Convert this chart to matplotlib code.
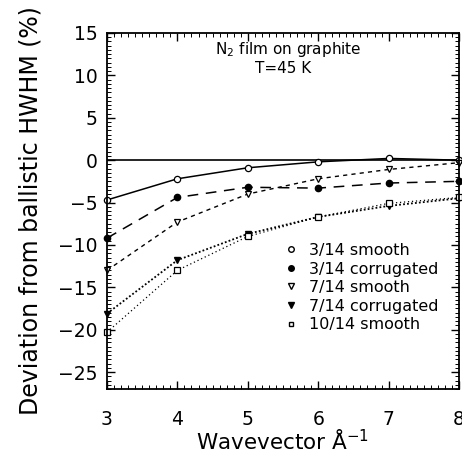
import matplotlib
matplotlib.use("Agg")
import matplotlib.pyplot as plt
from matplotlib.ticker import MultipleLocator
from matplotlib.lines import Line2D

x = [3, 4, 5, 6, 7, 8]
s3_smooth = [-4.7, -2.2, -0.9, -0.2, 0.2, 0.0]
s3_corr = [-9.2, -4.4, -3.2, -3.3, -2.7, -2.5]
s7_smooth = [-13.0, -7.3, -4.0, -2.2, -1.1, -0.3]
s7_corr = [-18.1, -11.8, -8.7, -6.7, -5.4, -4.5]
s10_smooth = [-20.3, -13.0, -9.0, -6.7, -5.1, -4.4]
labels = ["3/14 smooth", "3/14 corrugated", "7/14 smooth", "7/14 corrugated", "10/14 smooth"]

plt.rcParams['font.family'] = ['DejaVu Sans']
fig = plt.figure(figsize=(4.62, 4.68), dpi=100)
ax = fig.add_axes([0.2316, 0.1688, 0.7619, 0.7607])

ax.axhline(0, color='black', lw=1.2, zorder=1)

ms = 4.5
common = dict(color='black', clip_on=False)
ax.plot(x, s3_smooth, lw=1.1, ls='-', marker='o', mfc='white', mec='black', ms=ms, mew=0.9, **common)
ax.plot(x, s3_corr, lw=1.1, ls=(0, (7, 5)), marker='o', mfc='black', mec='black', ms=ms, **common)
ax.plot(x, s7_smooth, lw=1.0, ls=(0, (3, 3)), marker='v', mfc='white', mec='black', ms=ms, mew=0.9, **common)
ax.plot(x, s7_corr, lw=1.3, ls=(0, (1, 1.2)), marker='v', mfc='black', mec='black', ms=ms, **common)
ax.plot(x, s10_smooth, lw=0.9, ls=(0, (1, 2.2)), marker='s', mfc='white', mec='black', ms=ms - 0.5, mew=0.9, **common)

ax.set_xlim(3, 8)
ax.set_ylim(-27, 15)
ax.xaxis.set_major_locator(MultipleLocator(1))
ax.xaxis.set_minor_locator(MultipleLocator(0.1))
ax.yaxis.set_major_locator(MultipleLocator(5))
ax.yaxis.set_minor_locator(MultipleLocator(0.5))
ax.tick_params(which='both', direction='in', top=True, right=True, labelsize=13.5)
ax.tick_params(which='major', length=6, width=1)
ax.tick_params(which='minor', length=3, width=0.7)
ax.tick_params(axis='x', pad=15)
ax.tick_params(axis='y', pad=7)
for sp in ax.spines.values():
    sp.set_linewidth(1.3)

ax.set_xlabel("Wavevector Å$^{-1}$", fontsize=15.5, labelpad=0)
ax.set_ylabel("Deviation from ballistic HWHM (%)", fontsize=17, labelpad=11)

ax.text(0.515, 0.955, "N$_2$ film on graphite", transform=ax.transAxes, ha='center', va='center', fontsize=11)
ax.text(0.5, 0.9, "T=45 K", transform=ax.transAxes, ha='center', va='center', fontsize=11)

handles = [
    Line2D([], [], ls='none', marker='o', mfc='white', mec='black', ms=4),
    Line2D([], [], ls='none', marker='o', mfc='black', mec='black', ms=4),
    Line2D([], [], ls='none', marker='v', mfc='white', mec='black', ms=4),
    Line2D([], [], ls='none', marker='v', mfc='black', mec='black', ms=4),
    Line2D([], [], ls='none', marker='s', mfc='white', mec='black', ms=3.5),
]
ax.legend(handles, labels, loc='upper left', bbox_to_anchor=(0.5045, 0.41), frameon=False,
          fontsize=11.5, handlelength=0.8, handletextpad=0.73, labelspacing=0.22,
          borderpad=0, borderaxespad=0)

fig.savefig("out.png", dpi=100)
